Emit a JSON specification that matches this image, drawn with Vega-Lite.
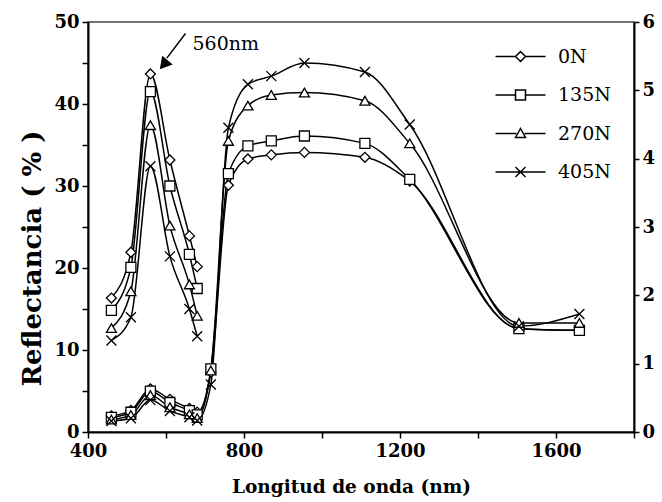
{
  "$schema": "https://vega.github.io/schema/vega-lite/v6.json",
  "width": 546,
  "height": 410,
  "autosize": "none",
  "padding": {"left": 88, "top": 22, "right": 28, "bottom": 70},
  "background": "white",
  "config": {
    "view": {"stroke": "#444", "strokeWidth": 1.5},
    "axis": {
      "labelFont": "DejaVu Serif", "labelFontWeight": "bold", "labelFontSize": 18, "labelColor": "black",
      "titleFont": "DejaVu Serif", "titleFontWeight": "bold", "titleFontSize": 18.5, "titleColor": "black",
      "domainColor": "black", "domainWidth": 2, "tickColor": "black", "tickWidth": 1.5, "grid": false
    }
  },
  "datasets": {
    "spectra": [
      {"serie": "0N", "wl": 460, "refl": 1.96}, {"serie": "0N", "wl": 510, "refl": 2.63}, {"serie": "0N", "wl": 560, "refl": 5.24},
      {"serie": "0N", "wl": 610, "refl": 3.98}, {"serie": "0N", "wl": 660, "refl": 2.87}, {"serie": "0N", "wl": 680, "refl": 2.42},
      {"serie": "0N", "wl": 715, "refl": 7.3}, {"serie": "0N", "wl": 760, "refl": 30.1}, {"serie": "0N", "wl": 810, "refl": 33.3},
      {"serie": "0N", "wl": 870, "refl": 33.8}, {"serie": "0N", "wl": 955, "refl": 34.1}, {"serie": "0N", "wl": 1110, "refl": 33.5},
      {"serie": "0N", "wl": 1225, "refl": 30.6}, {"serie": "0N", "wl": 1505, "refl": 12.6}, {"serie": "0N", "wl": 1660, "refl": 12.4},
      {"serie": "135N", "wl": 460, "refl": 1.78}, {"serie": "135N", "wl": 510, "refl": 2.41}, {"serie": "135N", "wl": 560, "refl": 4.98},
      {"serie": "135N", "wl": 610, "refl": 3.6}, {"serie": "135N", "wl": 660, "refl": 2.6}, {"serie": "135N", "wl": 680, "refl": 2.1},
      {"serie": "135N", "wl": 715, "refl": 7.7}, {"serie": "135N", "wl": 760, "refl": 31.5}, {"serie": "135N", "wl": 810, "refl": 34.9},
      {"serie": "135N", "wl": 870, "refl": 35.5}, {"serie": "135N", "wl": 955, "refl": 36.1}, {"serie": "135N", "wl": 1110, "refl": 35.2},
      {"serie": "135N", "wl": 1225, "refl": 30.8}, {"serie": "135N", "wl": 1505, "refl": 12.6}, {"serie": "135N", "wl": 1660, "refl": 12.4},
      {"serie": "270N", "wl": 460, "refl": 1.52}, {"serie": "270N", "wl": 510, "refl": 2.06}, {"serie": "270N", "wl": 560, "refl": 4.49},
      {"serie": "270N", "wl": 610, "refl": 3.02}, {"serie": "270N", "wl": 660, "refl": 2.16}, {"serie": "270N", "wl": 680, "refl": 1.7},
      {"serie": "270N", "wl": 715, "refl": 7.5}, {"serie": "270N", "wl": 760, "refl": 35.5}, {"serie": "270N", "wl": 810, "refl": 39.8},
      {"serie": "270N", "wl": 870, "refl": 41.1}, {"serie": "270N", "wl": 955, "refl": 41.4}, {"serie": "270N", "wl": 1110, "refl": 40.4},
      {"serie": "270N", "wl": 1225, "refl": 35.2}, {"serie": "270N", "wl": 1505, "refl": 13.3}, {"serie": "270N", "wl": 1660, "refl": 13.3},
      {"serie": "405N", "wl": 460, "refl": 1.34}, {"serie": "405N", "wl": 510, "refl": 1.68}, {"serie": "405N", "wl": 560, "refl": 3.89},
      {"serie": "405N", "wl": 610, "refl": 2.57}, {"serie": "405N", "wl": 660, "refl": 1.8}, {"serie": "405N", "wl": 680, "refl": 1.4},
      {"serie": "405N", "wl": 715, "refl": 5.8}, {"serie": "405N", "wl": 760, "refl": 37.1}, {"serie": "405N", "wl": 810, "refl": 42.4},
      {"serie": "405N", "wl": 870, "refl": 43.4}, {"serie": "405N", "wl": 955, "refl": 45.0}, {"serie": "405N", "wl": 1110, "refl": 43.9},
      {"serie": "405N", "wl": 1225, "refl": 37.5}, {"serie": "405N", "wl": 1505, "refl": 12.9}, {"serie": "405N", "wl": 1660, "refl": 14.4}
    ],
    "note": [{"wl": 668, "refl": 47.3, "label": "560nm"}],
    "arrow": [{"wl": 650, "refl": 48.6, "wl2": 602, "refl2": 45.6}],
    "head": [{"wl": 594, "refl": 44.8}]
  },
  "layer": [
    {
      "layer": [
        {
          "data": {"name": "spectra"},
          "mark": {"type": "line", "color": "black", "strokeWidth": 1.5, "interpolate": "monotone"},
          "encoding": {
            "x": {"field": "wl", "type": "quantitative", "scale": {"domain": [400, 1800], "nice": false},
              "axis": {"title": "Longitud de onda (nm)", "values": [400,500,600,700,800,900,1000,1100,1200,1300,1400,1500,1600,1700,1800],
                "labelExpr": "datum.value % 400 === 0 ? format(datum.value, 'd') : ''", "tickSize": 6, "labelPadding": 4, "titlePadding": 17, "titleX": 263, "labelFlush": false}},
            "y": {"field": "refl", "type": "quantitative", "scale": {"domain": [0, 50], "nice": false},
              "axis": {"title": "Reflectancia (  %  )", "titleFontSize": 26, "titleY": 236, "orient": "left", "values": [0,5,10,15,20,25,30,35,40,45,50],
                "labelExpr": "datum.value % 10 === 0 ? datum.label : ''", "tickSize": 6, "labelPadding": 3, "titlePadding": 8}},
            "detail": {"field": "serie", "type": "nominal"}
          }
        },
        {
          "data": {"name": "spectra"},
          "mark": {"type": "point", "filled": true, "fill": "white", "stroke": "black", "strokeWidth": 1.3, "size": 100, "opacity": 1},
          "encoding": {
            "x": {"field": "wl", "type": "quantitative"},
            "y": {"field": "refl", "type": "quantitative"},
            "shape": {"field": "serie", "type": "nominal",
              "scale": {"domain": ["0N", "135N", "270N", "405N"], "range": ["diamond", "square", "triangle-up", "M-1,-1L1,1M-1,1L1,-1"]},
              "legend": null}
          }
        },
        {
          "data": {"name": "spectra"},
          "transform": [{"filter": "datum.wl < 0"}],
          "mark": {"type": "point", "filled": true, "fill": "white", "stroke": "black", "strokeWidth": 1.3, "size": 100, "opacity": 1},
          "encoding": {
            "x": {"field": "wl", "type": "quantitative"},
            "y": {"field": "refl", "type": "quantitative"},
            "shape": {"field": "serie", "type": "nominal",
              "scale": {"domain": ["0N", "135N", "270N", "405N"], "range": ["M-5,0H-1M1,0H5M-1,0L0,-1L1,0L0,1Z", "M-5,0H-1M1,0H5M-1,-1H1V1H-1Z", "M-5,0H-0.8M0.8,0H5M-1,0.8L0,-1L1,0.8Z", "M-5,0H5M-1,-1L1,1M-1,1L1,-1"]},
              "legend": {"orient": "none", "legendX": 423, "legendY": 25, "title": null,
                "labelFont": "DejaVu Serif", "labelFontSize": 19, "labelColor": "black", "symbolSize": 100,
                "rowPadding": 18.5, "labelOffset": 28}}
          }
        },
        {
          "data": {"name": "note"},
          "mark": {"type": "text", "font": "DejaVu Serif", "fontSize": 19, "align": "left", "baseline": "middle", "color": "black"},
          "encoding": {"x": {"field": "wl", "type": "quantitative"}, "y": {"field": "refl", "type": "quantitative"}, "text": {"field": "label"}}
        },
        {
          "data": {"name": "arrow"},
          "mark": {"type": "rule", "color": "black", "strokeWidth": 1.5},
          "encoding": {"x": {"field": "wl", "type": "quantitative"}, "y": {"field": "refl", "type": "quantitative"},
            "x2": {"field": "wl2"}, "y2": {"field": "refl2"}}
        },
        {
          "data": {"name": "head"},
          "mark": {"type": "point", "shape": "triangle-up", "filled": true, "color": "black", "size": 190, "angle": 220, "opacity": 1},
          "encoding": {"x": {"field": "wl", "type": "quantitative"}, "y": {"field": "refl", "type": "quantitative"}}
        }
      ],
      "resolve": {"scale": {"shape": "independent"}}
    },
    {
      "data": {"name": "spectra"},
      "transform": [{"filter": "datum.wl <= 680"}],
      "layer": [
        {
          "mark": {"type": "line", "color": "black", "strokeWidth": 1.5, "interpolate": "monotone"},
          "encoding": {
            "x": {"field": "wl", "type": "quantitative"},
            "y": {"field": "refl", "type": "quantitative", "scale": {"domain": [0, 6], "nice": false},
              "axis": {"title": null, "orient": "right", "values": [0,0.5,1,1.5,2,2.5,3,3.5,4,4.5,5,5.5,6],
                "labelExpr": "datum.value % 1 === 0 ? format(datum.value, 'd') : ''", "tickSize": 5, "labelPadding": 3}},
            "detail": {"field": "serie", "type": "nominal"}
          }
        },
        {
          "mark": {"type": "point", "filled": true, "fill": "white", "stroke": "black", "strokeWidth": 1.3, "size": 100, "opacity": 1},
          "encoding": {
            "x": {"field": "wl", "type": "quantitative"},
            "y": {"field": "refl", "type": "quantitative"},
            "shape": {"field": "serie", "type": "nominal",
              "scale": {"domain": ["0N", "135N", "270N", "405N"], "range": ["diamond", "square", "triangle-up", "M-1,-1L1,1M-1,1L1,-1"]},
              "legend": null}
          }
        }
      ]
    }
  ],
  "resolve": {"scale": {"y": "independent", "shape": "independent"}}
}
